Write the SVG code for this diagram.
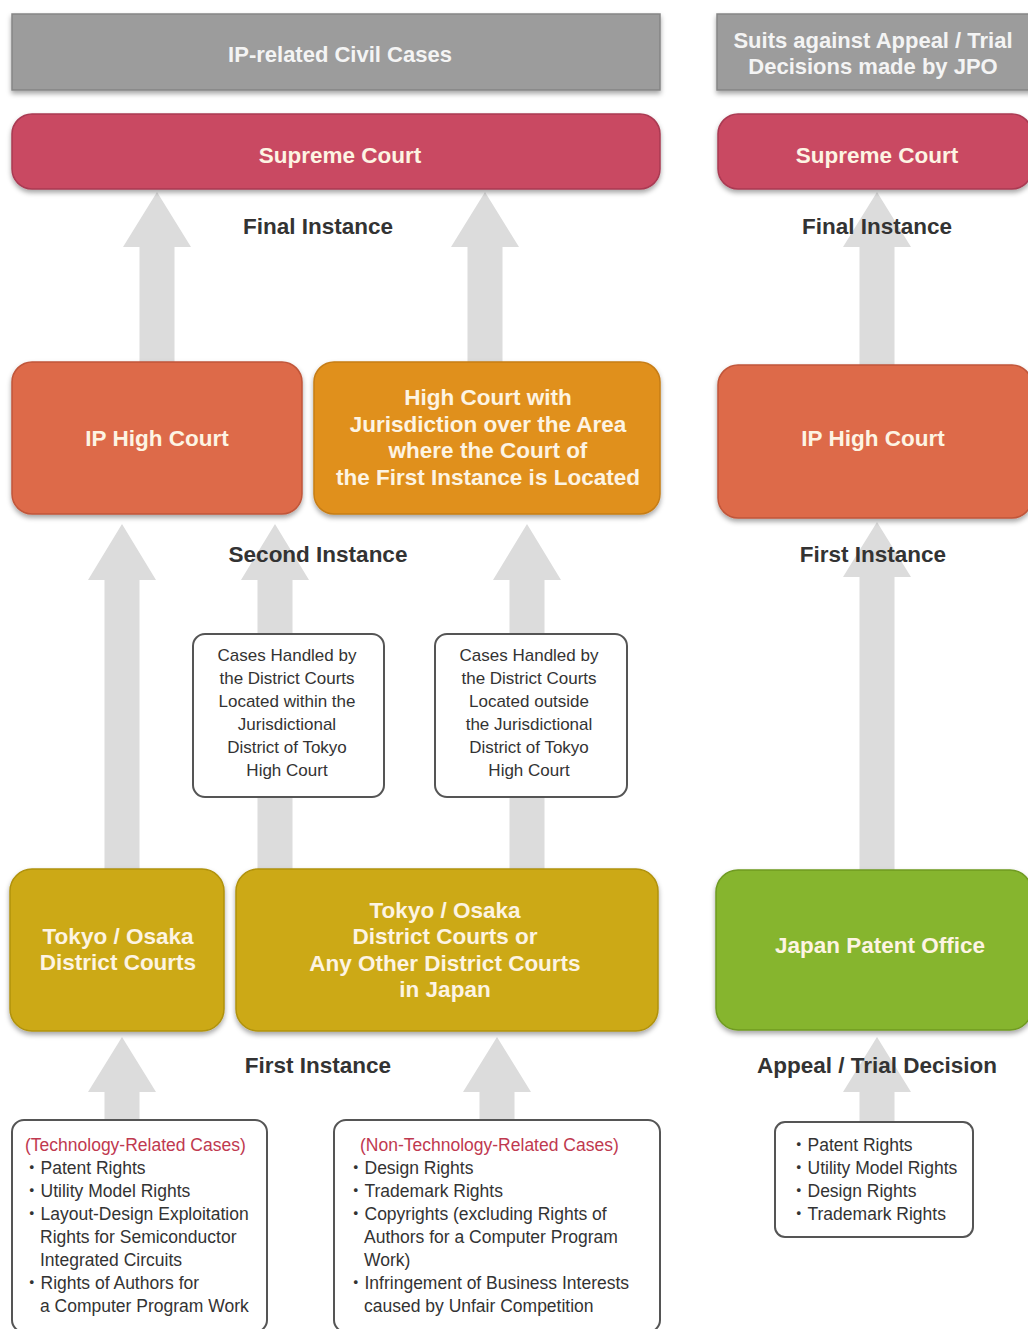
<svg xmlns="http://www.w3.org/2000/svg" width="1028" height="1329" viewBox="0 0 1028 1329">
<defs>
<filter id="sh" x="-5%" y="-10%" width="110%" height="125%">
<feDropShadow dx="0" dy="3" stdDeviation="2.5" flood-color="#000" flood-opacity="0.35"/>
</filter>
<style>
.arrow{fill:#dcdcdc}
.hdr{fill:#9c9c9c;stroke:#858585;stroke-width:1.5}
.sup{fill:#c94862;stroke:#a93a52;stroke-width:1.5}
.iph{fill:#dd6a48;stroke:#c0563a;stroke-width:1.5}
.hcj{fill:#e0901e;stroke:#c67d16;stroke-width:1.5}
.dst{fill:#cca914;stroke:#b0920e;stroke-width:1.5}
.jpo{fill:#86b52e;stroke:#6f9a22;stroke-width:1.5}
.note{fill:#ffffff;stroke:#555555;stroke-width:2}
.nt{font-family:"Liberation Sans",Arial,sans-serif;font-weight:bold;font-size:22.5px;fill:#fdf4e3;text-anchor:middle}
.ht{font-family:"Liberation Sans",Arial,sans-serif;font-weight:bold;font-size:22px;fill:#f4f4f4;text-anchor:middle}
.lbl{font-family:"Liberation Sans",Arial,sans-serif;font-weight:bold;font-size:22.5px;fill:#333333;text-anchor:middle}
.ct{font-family:"Liberation Sans",Arial,sans-serif;font-size:17px;fill:#333333;text-anchor:middle}
.lt{font-family:"Liberation Sans","Noto Sans CJK JP",Arial,sans-serif;font-size:17.5px;fill:#333333}
.red{fill:#c0394f}
</style>
</defs>
<rect width="1028" height="1329" fill="#ffffff"/>

<g id="connectors">
<polygon class="arrow" points="157,192 191,247 174.5,247 174.5,362 139.5,362 139.5,247 123,247"/>
<polygon class="arrow" points="485,192 519,247 502.5,247 502.5,362 467.5,362 467.5,247 451,247"/>
<polygon class="arrow" points="877,192 911,247 894.5,247 894.5,365 859.5,365 859.5,247 843,247"/>
<polygon class="arrow" points="122,524 156,580 139.5,580 139.5,869 104.5,869 104.5,580 88,580"/>
<polygon class="arrow" points="275,524 309,580 292.5,580 292.5,869 257.5,869 257.5,580 241,580"/>
<polygon class="arrow" points="527,524 561,580 544.5,580 544.5,869 509.5,869 509.5,580 493,580"/>
<polygon class="arrow" points="877,522 911,577 894.5,577 894.5,870 859.5,870 859.5,577 843,577"/>
<polygon class="arrow" points="122,1037 156,1092 139.5,1092 139.5,1120 104.5,1120 104.5,1092 88,1092"/>
<polygon class="arrow" points="497,1037 531,1092 514.5,1092 514.5,1120 479.5,1120 479.5,1092 463,1092"/>
<polygon class="arrow" points="877,1037 911,1092 894.5,1092 894.5,1122 859.5,1122 859.5,1092 843,1092"/>
</g>

<g id="hdr-civil">
<rect class="hdr" x="12" y="14" width="648" height="76" filter="url(#sh)"/>
<text class="ht" x="340" y="62">IP-related Civil Cases</text>
</g>
<g id="hdr-jpo">
<rect class="hdr" x="717" y="14" width="316" height="76" filter="url(#sh)"/>
<text class="ht" x="873" y="48">Suits against Appeal / Trial</text>
<text class="ht" x="873" y="74">Decisions made by JPO</text>
</g>

<g id="supreme-left">
<rect class="sup" x="12" y="114" width="648" height="75" rx="20" filter="url(#sh)"/>
<text class="nt" x="340" y="163">Supreme Court</text>
</g>
<g id="supreme-right">
<rect class="sup" x="718" y="114" width="314" height="75" rx="20" filter="url(#sh)"/>
<text class="nt" x="877" y="163">Supreme Court</text>
</g>

<g id="labels">
<text class="lbl" x="318" y="234">Final Instance</text>
<text class="lbl" x="877" y="234">Final Instance</text>
<text class="lbl" x="318" y="562">Second Instance</text>
<text class="lbl" x="873" y="562">First Instance</text>
<text class="lbl" x="318" y="1073">First Instance</text>
<text class="lbl" x="877" y="1073">Appeal / Trial Decision</text>
</g>

<g id="ip-high-left">
<rect class="iph" x="12" y="362" width="290" height="152" rx="20" filter="url(#sh)"/>
<text class="nt" x="157" y="446">IP High Court</text>
</g>
<g id="high-court-juris">
<rect class="hcj" x="314" y="362" width="346" height="152" rx="20" filter="url(#sh)"/>
<text class="nt" x="488" y="405">High Court with</text>
<text class="nt" x="488" y="432">Jurisdiction over the Area</text>
<text class="nt" x="488" y="458">where the Court of</text>
<text class="nt" x="488" y="485">the First Instance is Located</text>
</g>
<g id="ip-high-right">
<rect class="iph" x="718" y="365" width="314" height="153" rx="20" filter="url(#sh)"/>
<text class="nt" x="873" y="446">IP High Court</text>
</g>

<g id="note-within">
<rect class="note" x="193" y="634" width="191" height="163" rx="12"/>
<text class="ct" x="287" y="661">Cases Handled by</text>
<text class="ct" x="287" y="684">the District Courts</text>
<text class="ct" x="287" y="707">Located within the</text>
<text class="ct" x="287" y="730">Jurisdictional</text>
<text class="ct" x="287" y="753">District of Tokyo</text>
<text class="ct" x="287" y="776">High Court</text>
</g>
<g id="note-outside">
<rect class="note" x="435" y="634" width="192" height="163" rx="12"/>
<text class="ct" x="529" y="661">Cases Handled by</text>
<text class="ct" x="529" y="684">the District Courts</text>
<text class="ct" x="529" y="707">Located outside</text>
<text class="ct" x="529" y="730">the Jurisdictional</text>
<text class="ct" x="529" y="753">District of Tokyo</text>
<text class="ct" x="529" y="776">High Court</text>
</g>

<g id="district-left">
<rect class="dst" x="10" y="869" width="214" height="162" rx="22" filter="url(#sh)"/>
<text class="nt" x="118" y="944">Tokyo / Osaka</text>
<text class="nt" x="118" y="970">District Courts</text>
</g>
<g id="district-right">
<rect class="dst" x="236" y="869" width="422" height="162" rx="22" filter="url(#sh)"/>
<text class="nt" x="445" y="918">Tokyo / Osaka</text>
<text class="nt" x="445" y="944">District Courts or</text>
<text class="nt" x="445" y="971">Any Other District Courts</text>
<text class="nt" x="445" y="997">in Japan</text>
</g>
<g id="jpo">
<rect class="jpo" x="716" y="870" width="316" height="160" rx="22" filter="url(#sh)"/>
<text class="nt" x="880" y="953">Japan Patent Office</text>
</g>

<g id="list-tech">
<rect class="note" x="12" y="1120" width="255" height="212" rx="12"/>
<text class="lt red" x="25" y="1151">(Technology-Related Cases)</text>
<text class="lt" x="23" y="1174">・Patent Rights</text>
<text class="lt" x="23" y="1197">・Utility Model Rights</text>
<text class="lt" x="23" y="1220">・Layout-Design Exploitation</text>
<text class="lt" x="40" y="1243">Rights for Semiconductor</text>
<text class="lt" x="40" y="1266">Integrated Circuits</text>
<text class="lt" x="23" y="1289">・Rights of Authors for</text>
<text class="lt" x="40" y="1312">a Computer Program Work</text>
</g>
<g id="list-nontech">
<rect class="note" x="334" y="1120" width="326" height="212" rx="12"/>
<text class="lt red" x="360" y="1151">(Non-Technology-Related Cases)</text>
<text class="lt" x="347" y="1174">・Design Rights</text>
<text class="lt" x="347" y="1197">・Trademark Rights</text>
<text class="lt" x="347" y="1220">・Copyrights (excluding Rights of</text>
<text class="lt" x="364" y="1243">Authors for a Computer Program</text>
<text class="lt" x="364" y="1266">Work)</text>
<text class="lt" x="347" y="1289">・Infringement of Business Interests</text>
<text class="lt" x="364" y="1312">caused by Unfair Competition</text>
</g>
<g id="list-jpo">
<rect class="note" x="775" y="1122" width="198" height="115" rx="10"/>
<text class="lt" x="790" y="1151">・Patent Rights</text>
<text class="lt" x="790" y="1174">・Utility Model Rights</text>
<text class="lt" x="790" y="1197">・Design Rights</text>
<text class="lt" x="790" y="1220">・Trademark Rights</text>
</g>
</svg>
